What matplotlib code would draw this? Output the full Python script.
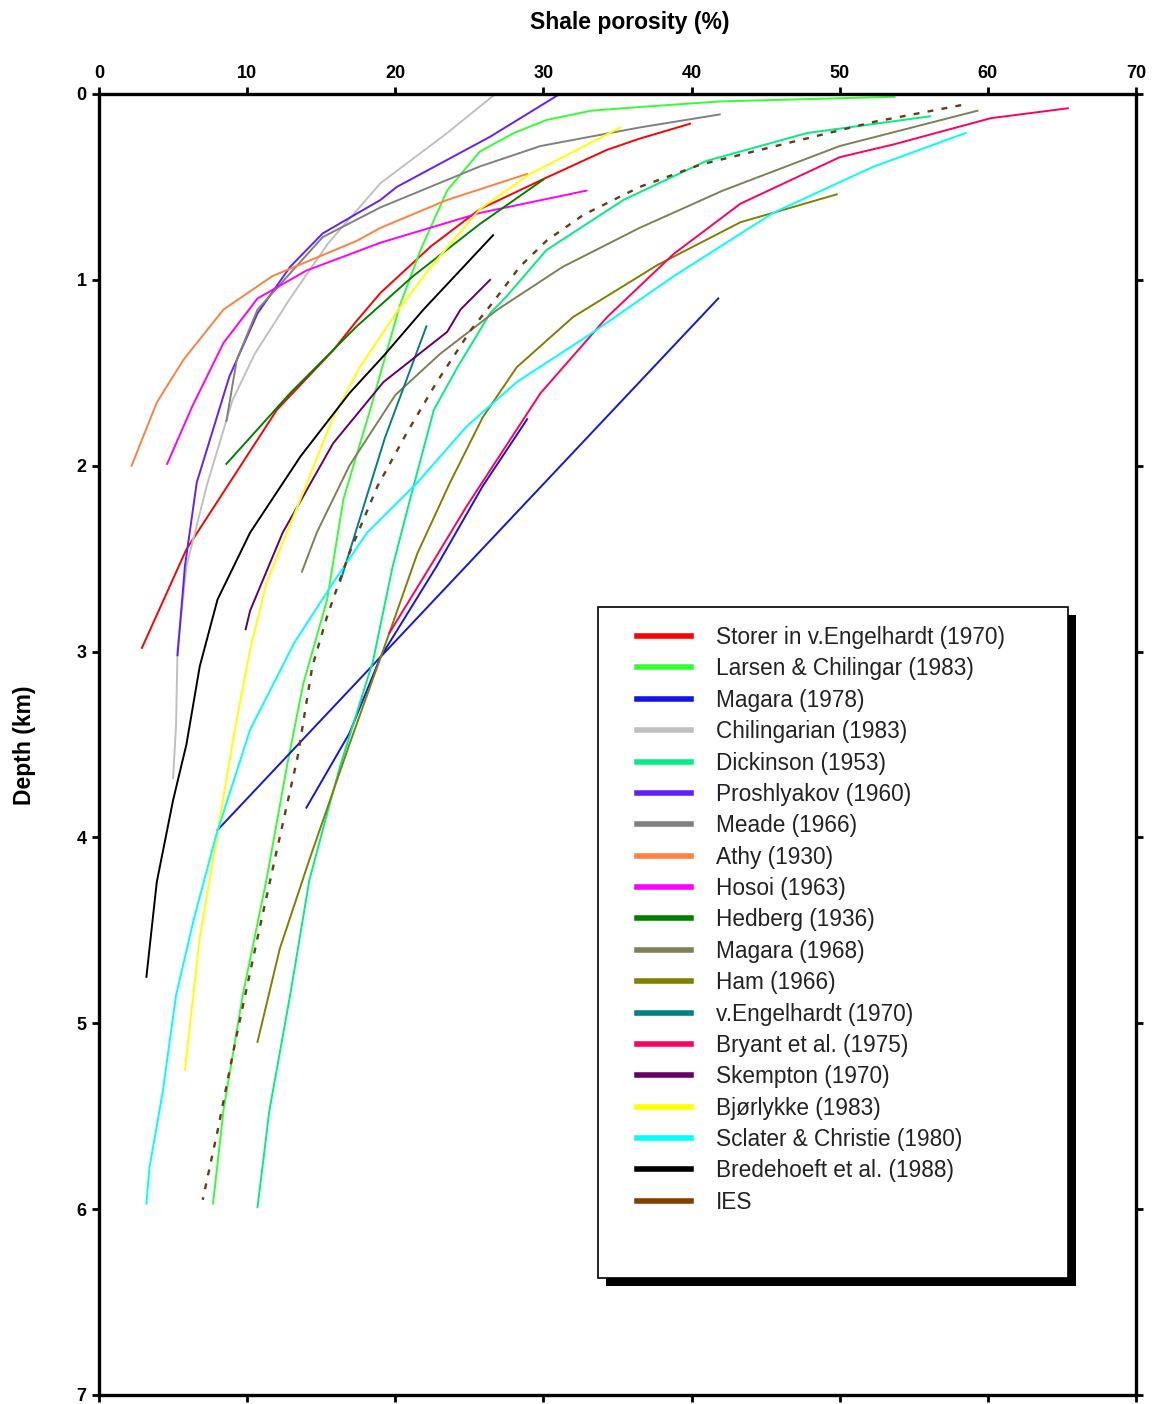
import matplotlib.pyplot as plt
from matplotlib.lines import Line2D
from matplotlib.patches import Rectangle

plt.rcParams['font.family'] = ['Liberation Sans', 'DejaVu Sans']

# <codecell>
'''DATA (porosity %, depth km) read off the published figure'''
# <codecell>
storer_p = [39.9, 36.5, 34.3, 30.2, 25.7, 22.4, 19.0, 17.4, 15.8, 12.0, 5.9, 2.9]
storer_d = [0.16, 0.24, 0.30, 0.45, 0.62, 0.82, 1.07, 1.22, 1.38, 1.70, 2.45, 2.98]

larsen_p = [53.7, 41.9, 36.5, 33.2, 30.2, 28.0, 25.7, 23.5, 21.7, 20.3, 18.3,
            16.5, 15.4, 13.8, 12.7, 11.3, 9.7, 8.4, 7.7]
larsen_d = [0.015, 0.04, 0.07, 0.09, 0.14, 0.21, 0.31, 0.52, 0.84, 1.14, 1.70,
            2.18, 2.72, 3.17, 3.61, 4.23, 4.85, 5.47, 5.97]

magara78_p = [41.8, 8.0]
magara78_d = [1.10, 3.96]
magara78b_p = [28.9, 25.9, 22.8, 19.0, 16.9, 14.0]
magara78b_d = [1.75, 2.11, 2.54, 3.03, 3.44, 3.84]

chilingarian_p = [26.6, 23.5, 19.0, 15.5, 12.9, 10.5, 9.0, 7.3, 5.9, 5.3, 5.2, 5.0]
chilingarian_d = [0.01, 0.21, 0.48, 0.80, 1.10, 1.40, 1.65, 2.10, 2.54, 2.99, 3.40, 3.68]

dickinson_p = [56.1, 47.8, 41.0, 35.4, 30.2, 27.5, 26.4, 24.2, 22.6, 21.0, 19.8,
               18.5, 16.3, 15.3, 14.2, 12.9, 11.5, 10.7]
dickinson_d = [0.12, 0.21, 0.36, 0.57, 0.84, 1.09, 1.18, 1.47, 1.70, 2.18, 2.55,
               3.05, 3.61, 3.90, 4.23, 4.85, 5.47, 5.99]

proshlyakov_p = [31.1, 26.4, 20.1, 19.0, 15.1, 12.9, 10.7, 8.8, 6.6, 5.8, 5.3]
proshlyakov_d = [0.0, 0.23, 0.50, 0.57, 0.75, 0.93, 1.18, 1.52, 2.09, 2.54, 3.02]

meade_p = [41.9, 36.5, 29.8, 25.7, 19.0, 15.1, 10.7, 9.3, 8.6]
meade_d = [0.11, 0.18, 0.28, 0.39, 0.61, 0.77, 1.16, 1.43, 1.76]

athy_p = [28.9, 23.5, 19.0, 17.4, 11.7, 8.4, 5.7, 3.9, 2.2]
athy_d = [0.43, 0.57, 0.72, 0.79, 0.98, 1.16, 1.43, 1.66, 2.00]

hosoi_p = [32.9, 25.7, 19.0, 14.0, 10.7, 8.4, 6.3, 4.6]
hosoi_d = [0.52, 0.64, 0.80, 0.95, 1.10, 1.34, 1.68, 1.99]

hedberg_p = [30.0, 25.7, 21.2, 17.4, 12.9, 8.6]
hedberg_d = [0.46, 0.70, 0.98, 1.25, 1.61, 1.99]

magara68_p = [59.3, 50.0, 42.1, 36.5, 31.3, 26.9, 23.0, 20.0, 16.9, 14.7, 13.7]
magara68_d = [0.09, 0.28, 0.52, 0.72, 0.93, 1.16, 1.40, 1.62, 2.00, 2.36, 2.57]

ham_p = [49.8, 43.3, 37.7, 32.0, 28.2, 25.9, 23.7, 21.5, 19.6, 16.9, 14.2, 12.2, 10.7]
ham_d = [0.54, 0.69, 0.92, 1.20, 1.47, 1.74, 2.09, 2.47, 2.90, 3.50, 4.12, 4.60, 5.10]

vengelhardt_p = [22.1, 19.3, 16.3]
vengelhardt_d = [1.25, 1.85, 2.62]

bryant_p = [65.4, 60.2, 53.7, 50.0, 43.3, 38.8, 34.3, 29.8, 24.8, 22.6, 19.6]
bryant_d = [0.077, 0.13, 0.27, 0.34, 0.59, 0.86, 1.20, 1.61, 2.22, 2.51, 2.90]

skempton_p = [26.4, 24.4, 23.5, 19.2, 15.8, 12.4, 10.2, 9.9]
skempton_d = [1.00, 1.16, 1.28, 1.55, 1.88, 2.36, 2.78, 2.88]

bjorlykke_p = [35.2, 29.1, 25.7, 22.4, 20.3, 17.6, 15.8, 13.6, 11.3, 10.2, 9.1,
               7.9, 6.8, 5.8]
bjorlykke_d = [0.18, 0.43, 0.62, 0.93, 1.15, 1.47, 1.74, 2.18, 2.63, 2.99, 3.45,
               4.02, 4.54, 5.25]

sclater_p = [58.5, 52.3, 45.5, 38.8, 33.2, 28.2, 24.8, 21.5, 18.1, 15.8, 13.2,
             10.2, 7.9, 6.4, 5.2, 4.3, 3.4, 3.2]
sclater_d = [0.21, 0.39, 0.64, 0.98, 1.29, 1.55, 1.79, 2.09, 2.36, 2.63, 2.95,
             3.42, 3.99, 4.44, 4.85, 5.37, 5.78, 5.97]

bredehoeft_p = [26.6, 21.9, 19.2, 16.9, 13.6, 10.2, 8.0, 6.8, 5.9, 5.0, 3.9, 3.2]
bredehoeft_d = [0.76, 1.16, 1.41, 1.61, 1.95, 2.36, 2.72, 3.08, 3.50, 3.80, 4.24, 4.75]

ies_p = [58.2, 52.3, 40.6, 36.5, 32.7, 30.2, 28.4, 26.6, 25.1, 22.8, 20.8, 18.8,
         16.9, 15.4, 14.4, 13.4, 12.0, 10.7, 9.3, 8.0, 7.0]
ies_d = [0.06, 0.15, 0.38, 0.50, 0.65, 0.79, 0.93, 1.12, 1.27, 1.55, 1.82, 2.11,
         2.47, 2.81, 3.08, 3.57, 4.07, 4.54, 5.06, 5.58, 5.95]

# legend order, colours
curves = [
    ('Storer in v.Engelhardt (1970)', '#ff0000', [(storer_p, storer_d)]),
    ('Larsen & Chilingar (1983)', '#33ff33', [(larsen_p, larsen_d)]),
    ('Magara (1978)', '#1414e6', [(magara78_p, magara78_d),
                                  (magara78b_p, magara78b_d)]),
    ('Chilingarian (1983)', '#c0c0c0', [(chilingarian_p, chilingarian_d)]),
    ('Dickinson (1953)', '#00f080', [(dickinson_p, dickinson_d)]),
    ('Proshlyakov (1960)', '#6020ff', [(proshlyakov_p, proshlyakov_d)]),
    ('Meade (1966)', '#808080', [(meade_p, meade_d)]),
    ('Athy (1930)', '#ff8040', [(athy_p, athy_d)]),
    ('Hosoi (1963)', '#ff00ff', [(hosoi_p, hosoi_d)]),
    ('Hedberg (1936)', '#008000', [(hedberg_p, hedberg_d)]),
    ('Magara (1968)', '#7f7f5a', [(magara68_p, magara68_d)]),
    ('Ham (1966)', '#808000', [(ham_p, ham_d)]),
    ('v.Engelhardt (1970)', '#008080', [(vengelhardt_p, vengelhardt_d)]),
    ('Bryant et al. (1975)', '#ff0060', [(bryant_p, bryant_d)]),
    ('Skempton (1970)', '#660066', [(skempton_p, skempton_d)]),
    ('Bjørlykke (1983)', '#ffff00', [(bjorlykke_p, bjorlykke_d)]),
    ('Sclater & Christie (1980)', '#00ffff', [(sclater_p, sclater_d)]),
    ('Bredehoeft et al. (1988)', '#000000', [(bredehoeft_p, bredehoeft_d)]),
    ('IES', '#804000', [(ies_p, ies_d)]),
]

# <codecell>
'''PLOT'''
# <codecell>
fig = plt.figure(figsize=(11.57, 14.04), dpi=100)
ax = fig.add_axes([99 / 1157, 1 - 1395 / 1404, 1037 / 1157, 1301 / 1404])

for name, color, segs in curves:
    for p, d in segs:
        if name == 'IES':
            ax.plot(p, d, color='#6a3a1a', lw=1.7, ls=(0, (2.5, 3.5)), zorder=3)
        else:
            ax.plot(p, d, color=color, lw=1.4, zorder=2)

ax.set_xlim(0, 70)
ax.set_ylim(7, 0)
ax.set_xticks(range(0, 71, 10))
ax.set_yticks(range(0, 8))
ax.tick_params(axis='both', which='both', direction='out', length=5, width=2,
               labelsize=13, top=True, right=True, bottom=True, left=True,
               labeltop=True, labelbottom=False, labelright=False, pad=4)
for lab in ax.get_xticklabels() + ax.get_yticklabels():
    lab.set_fontweight('bold')
for s in ax.spines.values():
    s.set_linewidth(2.4)

fig.text(630 / 1157, 1 - 22 / 1404, 'Shale porosity (%)', ha='center',
         va='center', fontsize=16.5, fontweight='bold')
fig.text(25 / 1157, 1 - 745 / 1404, 'Depth (km)', ha='center', va='center',
         rotation=90, fontsize=16.5, fontweight='bold')

# legend frame with a hard black shadow
bx0, bx1 = (598 - 99) / 1037, (1068 - 99) / 1037
by0, by1 = 1 - (1278 - 94) / 1301, 1 - (607 - 94) / 1301
sh = 8 / 1037
ax.add_patch(Rectangle((bx0 + sh, by0 - 8 / 1301), bx1 - bx0, by1 - by0,
                       transform=ax.transAxes, facecolor='black',
                       edgecolor='none', zorder=5))
ax.add_patch(Rectangle((bx0, by0), bx1 - bx0, by1 - by0,
                       transform=ax.transAxes, facecolor='white',
                       edgecolor='black', lw=1.2, zorder=6))

handles = [Line2D([], [], color=c, lw=4) for _, c, _ in curves]
labels = [n for n, _, _ in curves]
leg = ax.legend(handles, labels, loc='upper left',
                bbox_to_anchor=((637 - 99) / 1037, 1 - (626 - 94) / 1301),
                frameon=False, fontsize=16.3, borderpad=0, borderaxespad=0,
                handlelength=2.4, handletextpad=1.1, labelspacing=0.37)
leg.set_zorder(7)
for t in leg.get_texts():
    t.set_color('#222222')

plt.savefig('out.png', dpi=100)
